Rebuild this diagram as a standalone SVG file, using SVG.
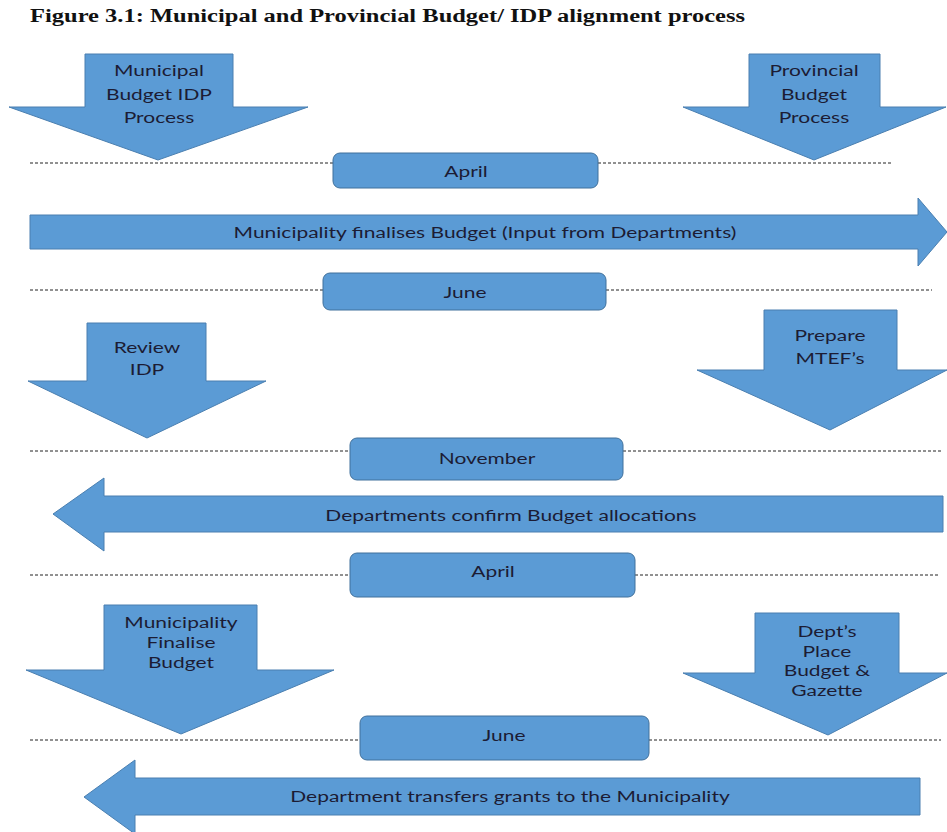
<svg xmlns="http://www.w3.org/2000/svg" width="947" height="832" viewBox="0 0 947 832">
  <style>
    .shape { fill: #5B9BD5; stroke: #4A7FB0; stroke-width: 1; }
    .box { fill: #5B9BD5; stroke: #41719C; stroke-width: 1; }
    .lbl { font-family: Lato, "Open Sans", "Liberation Sans", sans-serif; font-size: 15px; fill: #1c1c34; text-anchor: middle; dominant-baseline: central; }
    .title { font-family: "Liberation Serif", "Times New Roman", serif; font-size: 18px; font-weight: bold; fill: #111; }
    .dash { stroke: #222; stroke-width: 1; stroke-dasharray: 3 2; fill: none; }
  </style>

  <text class="title" x="30" y="22" textLength="715" lengthAdjust="spacingAndGlyphs">Figure 3.1: Municipal and Provincial Budget/ IDP alignment process</text>

  <!-- timeline dividers -->
  <g id="connectors">
    <line class="dash" x1="30" y1="163" x2="333" y2="163"/>
    <line class="dash" x1="598" y1="163" x2="892" y2="163"/>
    <line class="dash" x1="30" y1="290" x2="323" y2="290"/>
    <line class="dash" x1="606" y1="290" x2="932" y2="290"/>
    <line class="dash" x1="30" y1="451" x2="350" y2="451"/>
    <line class="dash" x1="623" y1="451" x2="941" y2="451"/>
    <line class="dash" x1="30" y1="575" x2="350" y2="575"/>
    <line class="dash" x1="635" y1="575" x2="940" y2="575"/>
    <line class="dash" x1="30" y1="740" x2="360" y2="740"/>
    <line class="dash" x1="649" y1="740" x2="941" y2="740"/>
  </g>

  <!-- labels are drawn wide: each group is centred on its x and stretched 1.4 horizontally -->
  <g id="municipal-budget-idp">
    <polygon class="shape" points="85,54 233,54 233,107 308,107 158,160 9,107 85,107"/>
    <g transform="translate(159,0) scale(1.4,1)">
      <text class="lbl" x="0" y="70">Municipal</text>
      <text class="lbl" x="0" y="94">Budget IDP</text>
      <text class="lbl" x="0" y="117">Process</text>
    </g>
  </g>

  <g id="provincial-budget">
    <polygon class="shape" points="749,54 880,54 880,107 946,107 814,160 683,107 749,107"/>
    <g transform="translate(814,0) scale(1.4,1)">
      <text class="lbl" x="0" y="70">Provincial</text>
      <text class="lbl" x="0" y="94">Budget</text>
      <text class="lbl" x="0" y="117">Process</text>
    </g>
  </g>

  <g id="april-1">
    <rect class="box" x="333" y="153" width="265" height="35" rx="7"/>
    <g transform="translate(466,0) scale(1.4,1)"><text class="lbl" x="0" y="171">April</text></g>
  </g>

  <g id="municipality-finalises">
    <polygon class="shape" points="30,215 918,215 918,198 947,232 918,266 918,249 30,249"/>
    <g transform="translate(485,0) scale(1.4,1)"><text class="lbl" x="0" y="232">Municipality finalises Budget (Input from Departments)</text></g>
  </g>

  <g id="june-1">
    <rect class="box" x="323" y="273" width="283" height="37" rx="7"/>
    <g transform="translate(465,0) scale(1.4,1)"><text class="lbl" x="0" y="292">June</text></g>
  </g>

  <g id="review-idp">
    <polygon class="shape" points="87,323 206,323 206,381 266,381 147,438 28,381 87,381"/>
    <g transform="translate(147,0) scale(1.4,1)">
      <text class="lbl" x="0" y="347">Review</text>
      <text class="lbl" x="0" y="369">IDP</text>
    </g>
  </g>

  <g id="prepare-mtef">
    <polygon class="shape" points="764,310 897,310 897,370 947,370 830,430 697,370 764,370"/>
    <g transform="translate(830,0) scale(1.4,1)">
      <text class="lbl" x="0" y="335">Prepare</text>
      <text class="lbl" x="0" y="358">MTEF’s</text>
    </g>
  </g>

  <g id="november">
    <rect class="box" x="350" y="438" width="273" height="42" rx="7"/>
    <g transform="translate(487,0) scale(1.4,1)"><text class="lbl" x="0" y="458">November</text></g>
  </g>

  <g id="departments-confirm">
    <polygon class="shape" points="943,496 104,496 104,478 53,514 104,551 104,532 943,532"/>
    <g transform="translate(511,0) scale(1.4,1)"><text class="lbl" x="0" y="515">Departments confirm Budget allocations</text></g>
  </g>

  <g id="april-2">
    <rect class="box" x="350" y="553" width="285" height="44" rx="7"/>
    <g transform="translate(493,0) scale(1.4,1)"><text class="lbl" x="0" y="571">April</text></g>
  </g>

  <g id="municipality-finalise-budget">
    <polygon class="shape" points="104,605 257,605 257,670 334,670 181,734 26,670 104,670"/>
    <g transform="translate(181,0) scale(1.4,1)">
      <text class="lbl" x="0" y="622">Municipality</text>
      <text class="lbl" x="0" y="642">Finalise</text>
      <text class="lbl" x="0" y="662">Budget</text>
    </g>
  </g>

  <g id="dept-place-budget">
    <polygon class="shape" points="755,613 899,613 899,673 947,673 828,735 683,673 755,673"/>
    <g transform="translate(827,0) scale(1.4,1)">
      <text class="lbl" x="0" y="631">Dept’s</text>
      <text class="lbl" x="0" y="651">Place</text>
      <text class="lbl" x="0" y="670">Budget &amp;</text>
      <text class="lbl" x="0" y="690">Gazette</text>
    </g>
  </g>

  <g id="june-2">
    <rect class="box" x="360" y="716" width="289" height="44" rx="7"/>
    <g transform="translate(504,0) scale(1.4,1)"><text class="lbl" x="0" y="735">June</text></g>
  </g>

  <g id="department-transfers">
    <polygon class="shape" points="920,778 135,778 135,760 84,797 135,834 135,815 920,815"/>
    <g transform="translate(510,0) scale(1.4,1)"><text class="lbl" x="0" y="796">Department transfers grants to the Municipality</text></g>
  </g>
</svg>
